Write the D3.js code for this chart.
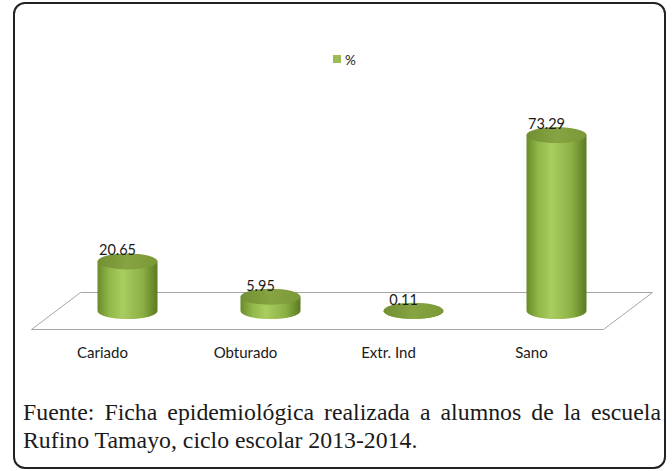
<!DOCTYPE html>
<html>
<head>
<meta charset="utf-8">
<script src="https://cdn.jsdelivr.net/npm/d3@7"></script>
<style>
  body { margin: 0; background: #fff; }
  svg { display: block; }
</style>
</head>
<body>
<div id="chart"></div>
<script>
// data
var categories = ['Cariado', 'Obturado', 'Extr. Ind', 'Sano'];
var values = [20.65, 5.95, 0.11, 73.29];
var valueLabels = ['20.65', '5.95', '0.11', '73.29'];
var seriesName = '%';
var captionLines = [
    'Fuente: Ficha epidemiológica realizada a alumnos de la escuela',
    'Rufino Tamayo, ciclo escolar 2013-2014.'
];

var width = 672, height = 471;
var baseY = 311;          // floor mid depth
var depthY = 18.5, depthX = 24.5;
var rx = 30, ry = 8;

var svg = d3.select('#chart').append('svg').attr('width', width).attr('height', height);

var defs = svg.append('defs');
var bodyGrad = defs.append('linearGradient').attr('id', 'bodyGrad')
    .attr('x1', '0%').attr('x2', '100%').attr('y1', '0%').attr('y2', '0%');
bodyGrad.append('stop').attr('offset', '0%').attr('stop-color', '#6a8b2b');
bodyGrad.append('stop').attr('offset', '20%').attr('stop-color', '#91b849');
bodyGrad.append('stop').attr('offset', '42%').attr('stop-color', '#a9cd60');
bodyGrad.append('stop').attr('offset', '75%').attr('stop-color', '#8cb043');
bodyGrad.append('stop').attr('offset', '100%').attr('stop-color', '#5b7a22');

var topGrad = defs.append('linearGradient').attr('id', 'topGrad')
    .attr('x1', '0%').attr('x2', '100%').attr('y1', '0%').attr('y2', '0%');
topGrad.append('stop').attr('offset', '0%').attr('stop-color', '#728f32');
topGrad.append('stop').attr('offset', '50%').attr('stop-color', '#86a442');
topGrad.append('stop').attr('offset', '100%').attr('stop-color', '#7a9836');

// outer frame
svg.append('rect')
    .attr('x', 14).attr('y', 3).attr('width', 651).attr('height', 465)
    .attr('rx', 11).attr('ry', 11)
    .attr('fill', '#fff').attr('stroke', '#222').attr('stroke-width', 2);

var x = d3.scaleBand().domain(categories).range([56, 628]).padding(0);
var y = d3.scaleLinear().domain([0, 80]).range([baseY, baseY - 80 * 2.4]);

// floor
var x0 = x.range()[0], x1 = x.range()[1];
var floor = [
    [x0 - depthX, baseY + depthY],
    [x0 + depthX, baseY - depthY],
    [x1 + depthX, baseY - depthY],
    [x1 - depthX, baseY + depthY]
];
svg.append('path')
    .attr('d', d3.line()(floor) + 'Z')
    .attr('fill', 'none').attr('stroke', '#a6a6a6').attr('stroke-width', 1);

// cylinders
var bars = svg.selectAll('g.bar')
    .data(values)
    .enter()
    .append('g')
    .attr('class', 'bar');

function cx(d, i) { return x(categories[i]) + x.bandwidth() / 2; }

bars.append('path')
    .attr('d', function(d, i) {
        var c = cx(d, i), t = y(d);
        return 'M' + (c - rx) + ',' + t +
            'L' + (c - rx) + ',' + baseY +
            'A' + rx + ',' + ry + ' 0 0 0 ' + (c + rx) + ',' + baseY +
            'L' + (c + rx) + ',' + t + 'Z';
    })
    .attr('fill', 'url(#bodyGrad)');

bars.append('ellipse')
    .attr('cx', cx)
    .attr('cy', function(d) { return y(d); })
    .attr('rx', rx).attr('ry', ry)
    .attr('fill', 'url(#topGrad)');

bars.append('text')
    .attr('x', function(d, i) { return cx(d, i) - 10; })
    .attr('y', function(d) { return y(d) - ry + 2; })
    .attr('text-anchor', 'middle')
    .attr('font-family', 'Lato, sans-serif')
    .attr('font-size', 14.5)
    .attr('fill', '#1a1a1a')
    .text(function(d, i) { return valueLabels[i]; });

// category labels along the front edge
svg.selectAll('text.cat')
    .data(categories)
    .enter()
    .append('text')
    .attr('class', 'cat')
    .attr('x', function(d) { return x(d) + x.bandwidth() / 2 - 25; })
    .attr('y', 358)
    .attr('text-anchor', 'middle')
    .attr('font-family', 'Lato, sans-serif')
    .attr('font-size', 15)
    .attr('fill', '#1a1a1a')
    .text(function(d) { return d; });

// legend
svg.append('rect').attr('x', 333).attr('y', 55).attr('width', 8).attr('height', 8).attr('fill', '#9bbb59');
svg.append('text').attr('x', 345).attr('y', 64.5)
    .attr('font-family', 'Lato, sans-serif').attr('font-size', 13.5).attr('fill', '#1a1a1a')
    .text(seriesName);

// caption, first line justified
var capLeft = 23, capRight = 661;
var capFont = 'Liberation Serif, Times New Roman, serif';
var capSize = 23.8;

var words = captionLines[0].split(' ');
var wg = svg.append('g');
var wordNodes = wg.selectAll('text').data(words).enter().append('text')
    .attr('y', 420)
    .attr('font-family', capFont).attr('font-size', capSize).attr('fill', '#1a1a1a')
    .text(function(d) { return d; });
var widths = [];
wordNodes.each(function() { widths.push(this.getComputedTextLength()); });
var gap = (capRight - capLeft - d3.sum(widths)) / (words.length - 1);
var pos = capLeft;
wordNodes.attr('x', function(d, i) {
    var p = pos;
    pos += widths[i] + gap;
    return p;
});

svg.append('text')
    .attr('x', capLeft).attr('y', 448)
    .attr('font-family', capFont).attr('font-size', capSize).attr('fill', '#1a1a1a')
    .text(captionLines[1]);
</script>
</body>
</html>
